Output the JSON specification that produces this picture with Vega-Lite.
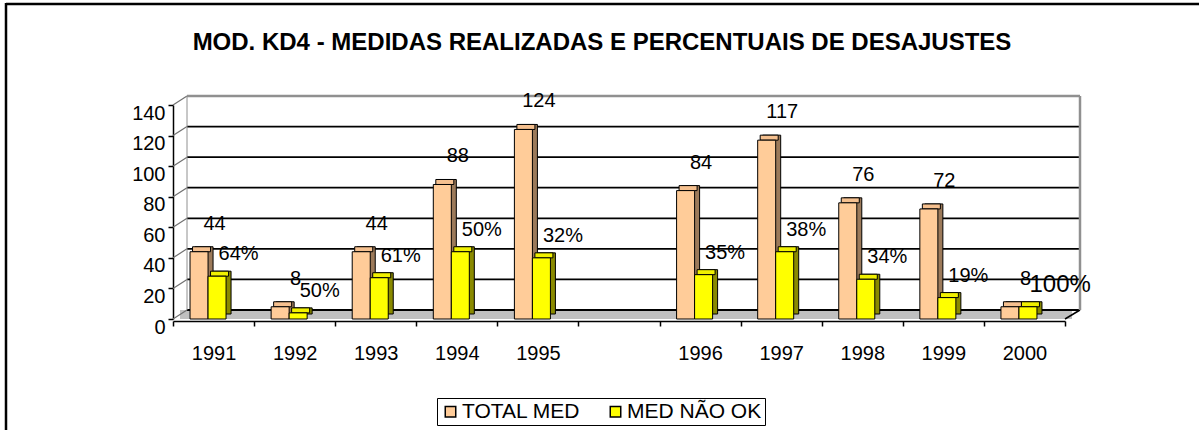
{
  "$schema": "https://vega.github.io/schema/vega-lite/v6.json",
  "autosize": "none",
  "padding": {"left": 173, "top": 105, "right": 134, "bottom": 111},
  "width": 892,
  "height": 214,
  "background": "white",
  "config": {
    "font": "Liberation Sans",
    "view": {"stroke": null},
    "axis": {"labelFont": "Liberation Sans", "labelColor": "black", "labelFontSize": 20, "domainColor": "black", "tickColor": "black", "grid": false, "title": null, "labelOverlap": false},
    "legend": {"labelFont": "Liberation Sans", "labelFontSize": 21, "labelColor": "black"}
  },
  "title": {"text": "MOD. KD4 - MEDIDAS REALIZADAS E PERCENTUAIS DE DESAJUSTES", "font": "Liberation Sans", "fontSize": 24, "fontWeight": "bold", "color": "black", "anchor": "middle", "dx": -17, "offset": -53},
  "datasets": {
    "bars": [
      {"year": "1991", "series": "TOTAL MED", "value": 44, "pct": ""},
      {"year": "1991", "series": "MED NÃO OK", "value": 28, "pct": "64%"},
      {"year": "1992", "series": "TOTAL MED", "value": 8, "pct": ""},
      {"year": "1992", "series": "MED NÃO OK", "value": 4, "pct": "50%"},
      {"year": "1993", "series": "TOTAL MED", "value": 44, "pct": ""},
      {"year": "1993", "series": "MED NÃO OK", "value": 27, "pct": "61%"},
      {"year": "1994", "series": "TOTAL MED", "value": 88, "pct": ""},
      {"year": "1994", "series": "MED NÃO OK", "value": 44, "pct": "50%"},
      {"year": "1995", "series": "TOTAL MED", "value": 124, "pct": ""},
      {"year": "1995", "series": "MED NÃO OK", "value": 40, "pct": "32%"},
      {"year": "1996", "series": "TOTAL MED", "value": 84, "pct": ""},
      {"year": "1996", "series": "MED NÃO OK", "value": 29, "pct": "35%"},
      {"year": "1997", "series": "TOTAL MED", "value": 117, "pct": ""},
      {"year": "1997", "series": "MED NÃO OK", "value": 44, "pct": "38%"},
      {"year": "1998", "series": "TOTAL MED", "value": 76, "pct": ""},
      {"year": "1998", "series": "MED NÃO OK", "value": 26, "pct": "34%"},
      {"year": "1999", "series": "TOTAL MED", "value": 72, "pct": ""},
      {"year": "1999", "series": "MED NÃO OK", "value": 14, "pct": "19%"},
      {"year": "2000", "series": "TOTAL MED", "value": 8, "pct": ""},
      {"year": "2000", "series": "MED NÃO OK", "value": 8, "pct": "100%"}
    ],
    "grid": [{"v": 0}, {"v": 20}, {"v": 40}, {"v": 60}, {"v": 80}, {"v": 100}, {"v": 120}, {"v": 140}]
  },
  "layer": [
    {
      "data": {"name": "grid"},
      "transform": [{"filter": "datum.v === 0"}],
      "mark": {"type": "rect", "fill": "#c0c0c0", "xOffset": 7, "x2Offset": 7},
      "encoding": {
        "x": {"datum": "1991", "bandPosition": 0, "scale": {"type": "band", "domain": ["1991", "1992", "1993", "1994", "1995", "", "1996", "1997", "1998", "1999", "2000"], "paddingInner": 0, "paddingOuter": 0}, "axis": {"tickBand": "extent", "ticks": true, "tickSize": 5, "tickWidth": 1.5, "domainWidth": 1.5, "offset": 2, "labelPadding": 17, "labelAngle": 0, "labelOverlap": false}},
        "x2": {"datum": "2000", "bandPosition": 1},
        "y": {"datum": 0, "scale": {"domain": [0, 140], "nice": false, "zero": true}, "axis": {"values": [0, 20, 40, 60, 80, 100, 120, 140], "tickCount": 8, "labelOverlap": false, "labelBound": false, "tickSize": 5, "tickWidth": 1.5, "domainWidth": 1.5, "labelPadding": 3, "labelOffset": 8}},
        "y2": {"datum": 5.9}
      }
    },
    {
      "data": {"name": "grid"},
      "mark": {"type": "rule", "xOffset": 14, "x2Offset": 15, "yOffset": -9, "y2Offset": -9},
      "encoding": {
        "x": {"datum": "1991", "bandPosition": 0},
        "x2": {"datum": "2000", "bandPosition": 1},
        "y": {"field": "v", "type": "quantitative"},
        "y2": {"field": "v"},
        "color": {"condition": {"test": "datum.v === 140", "value": "#909090"}, "value": "black"},
        "strokeWidth": {"condition": {"test": "datum.v === 140", "value": 2.5}, "value": 1.8}
      }
    },
    {
      "data": {"name": "grid"},
      "mark": {"type": "rule", "x2Offset": 14, "y2Offset": -9, "color": "#707070", "strokeWidth": 1.2},
      "encoding": {
        "x": {"datum": "1991", "bandPosition": 0},
        "x2": {"datum": "1991", "bandPosition": 0},
        "y": {"field": "v", "type": "quantitative"},
        "y2": {"field": "v"}
      }
    },
    {
      "data": {"name": "grid"},
      "transform": [{"filter": "datum.v === 0"}],
      "mark": {"type": "rule", "x2Offset": 15, "y2Offset": -9, "color": "black", "strokeWidth": 1.5},
      "encoding": {
        "x": {"datum": "2000", "bandPosition": 1},
        "x2": {"datum": "2000", "bandPosition": 1},
        "y": {"field": "v", "type": "quantitative"},
        "y2": {"field": "v"}
      }
    },
    {
      "data": {"name": "grid"},
      "transform": [{"filter": "datum.v === 0"}],
      "mark": {"type": "rule", "xOffset": 15, "x2Offset": 15, "yOffset": -9, "y2Offset": -9, "color": "#909090", "strokeWidth": 2.5},
      "encoding": {
        "x": {"datum": "2000", "bandPosition": 1},
        "x2": {"datum": "2000", "bandPosition": 1},
        "y": {"datum": 0},
        "y2": {"datum": 140}
      }
    },
    {
      "data": {"name": "grid"},
      "transform": [{"filter": "datum.v === 0"}],
      "mark": {"type": "rule", "xOffset": 14, "x2Offset": 14, "yOffset": -9, "y2Offset": -9, "color": "#909090", "strokeWidth": 1},
      "encoding": {
        "x": {"datum": "1991", "bandPosition": 0},
        "x2": {"datum": "1991", "bandPosition": 0},
        "y": {"datum": 0},
        "y2": {"datum": 140}
      }
    },
    {
      "data": {"name": "grid"},
      "transform": [{"filter": "datum.v === 0"}],
      "mark": {"type": "rule", "xOffset": -167, "x2Offset": 140, "yOffset": -101, "y2Offset": -101, "color": "black", "strokeWidth": 2.5},
      "encoding": {
        "x": {"datum": "1991", "bandPosition": 0},
        "x2": {"datum": "2000", "bandPosition": 1},
        "y": {"datum": 140},
        "y2": {"datum": 140}
      }
    },
    {
      "data": {"name": "grid"},
      "transform": [{"filter": "datum.v === 0"}],
      "mark": {"type": "rule", "xOffset": -167, "x2Offset": -167, "yOffset": -102, "y2Offset": 120, "color": "black", "strokeWidth": 2.5},
      "encoding": {
        "x": {"datum": "1991", "bandPosition": 0},
        "x2": {"datum": "1991", "bandPosition": 0},
        "y": {"datum": 140},
        "y2": {"datum": 0}
      }
    },
    {
      "data": {"name": "bars"},
      "transform": [{"filter": "datum.series === 'TOTAL MED'"}],
      "mark": {"type": "bar", "width": {"band": 0.2222}, "xOffset": -9.5, "yOffset": -5, "y2Offset": -5, "fill": "#9c7a5a", "stroke": "black", "strokeWidth": 1},
      "encoding": {
        "x": {"field": "year", "type": "nominal"},
        "y": {"field": "value", "type": "quantitative"}
      }
    },
    {
      "data": {"name": "bars"},
      "transform": [{"filter": "datum.series === 'TOTAL MED'"}],
      "mark": {"type": "bar", "width": {"band": 0.2222}, "xOffset": -12, "yOffset": -5, "y2Offset": 0, "fill": "#f5c08f", "stroke": "black", "strokeWidth": 1},
      "encoding": {
        "x": {"field": "year", "type": "nominal"},
        "y": {"field": "value", "type": "quantitative"},
        "y2": {"field": "value"}
      }
    },
    {
      "data": {"name": "bars"},
      "transform": [{"filter": "datum.series === 'TOTAL MED'"}],
      "mark": {"type": "bar", "width": {"band": 0.2222}, "xOffset": -14.5, "stroke": "black", "strokeWidth": 1},
      "encoding": {
        "x": {"field": "year", "type": "nominal"},
        "y": {"field": "value", "type": "quantitative"},
        "color": {"field": "series", "type": "nominal", "scale": {"domain": ["TOTAL MED", "MED NÃO OK"], "range": ["#ffcc99", "#ffff00"]},
          "legend": {"title": null, "orient": "none", "legendX": 264, "legendY": 293, "direction": "horizontal", "symbolType": "square", "symbolSize": 110, "symbolStrokeColor": "black", "symbolStrokeWidth": 1.5, "symbolOpacity": 1, "strokeColor": "black", "padding": 3, "columnPadding": 24, "labelOffset": 1}}
      }
    },
    {
      "data": {"name": "bars"},
      "transform": [{"filter": "datum.series === 'MED NÃO OK'"}],
      "mark": {"type": "bar", "width": {"band": 0.2222}, "xOffset": 8.5, "yOffset": -5, "y2Offset": -5, "fill": "#8a8a00", "stroke": "black", "strokeWidth": 1},
      "encoding": {
        "x": {"field": "year", "type": "nominal"},
        "y": {"field": "value", "type": "quantitative"}
      }
    },
    {
      "data": {"name": "bars"},
      "transform": [{"filter": "datum.series === 'MED NÃO OK'"}],
      "mark": {"type": "bar", "width": {"band": 0.2222}, "xOffset": 6, "yOffset": -5, "y2Offset": 0, "fill": "#f0f000", "stroke": "black", "strokeWidth": 1},
      "encoding": {
        "x": {"field": "year", "type": "nominal"},
        "y": {"field": "value", "type": "quantitative"},
        "y2": {"field": "value"}
      }
    },
    {
      "data": {"name": "bars"},
      "transform": [{"filter": "datum.series === 'MED NÃO OK'"}],
      "mark": {"type": "bar", "width": {"band": 0.2222}, "xOffset": 3.5, "stroke": "black", "strokeWidth": 1},
      "encoding": {
        "x": {"field": "year", "type": "nominal"},
        "y": {"field": "value", "type": "quantitative"},
        "color": {"field": "series", "type": "nominal"}
      }
    },
    {
      "data": {"name": "bars"},
      "transform": [{"filter": "datum.series === 'TOTAL MED'"}],
      "mark": {"type": "text", "fontSize": 20, "color": "black", "dx": 1, "dy": -28, "baseline": "middle", "align": "center"},
      "encoding": {
        "x": {"field": "year", "type": "nominal"},
        "y": {"field": "value", "type": "quantitative"},
        "text": {"field": "value", "type": "quantitative"}
      }
    },
    {
      "data": {"name": "bars"},
      "transform": [{"filter": "datum.series === 'MED NÃO OK'"}],
      "mark": {"type": "text", "color": "black", "dx": 5, "dy": -22, "baseline": "middle", "align": "left"},
      "encoding": {
        "x": {"field": "year", "type": "nominal"},
        "y": {"field": "value", "type": "quantitative"},
        "text": {"field": "pct", "type": "nominal"},
        "size": {"condition": {"test": "datum.year === '2000'", "value": 24}, "value": 20}
      }
    }
  ]
}
